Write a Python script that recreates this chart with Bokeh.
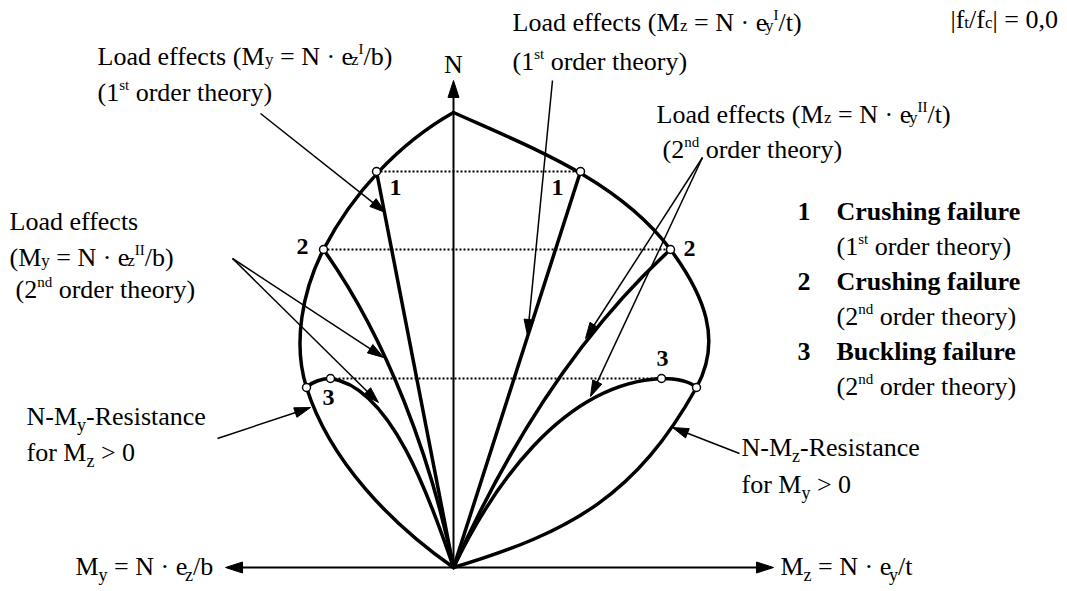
import numpy as np
from bokeh.plotting import figure
from bokeh.models import ColumnDataSource, Range1d
from bokeh.core.properties import value
from bokeh.embed import file_html
from bokeh.resources import INLINE

# ------------------------------------------------------------------
# DATA  (M = horizontal moment axis, N = axial force; origin at 0,0)
# ------------------------------------------------------------------
# Outer N-M resistance contour, cubic Bezier segments
outer_x0 = [0, -130, -147, 0, 217, 243]
outer_y0 = [455, 318, 180, 455, 318, 180]
outer_cx0 = [-55, -151, -124, 78, 251, 183]
outer_cy0 = [424, 277, 107, 420, 272, 73]
outer_cx1 = [-101, -161, -63, 165, 269, 120]
outer_cy1 = [374, 224, 44, 387, 227, 36]
outer_x1 = [-130, -147, 0, 217, 243, 0]
outer_y1 = [318, 180, 0, 318, 180, 0]

# 2nd order load paths (crushing 2, buckling 3), cubic Bezier segments
path_x0 = [-130, -147, -123, 217, 243, 208]
path_y0 = [318, 180, 189, 318, 180, 189]
path_cx0 = [-66, -141, -63, 122, 235, 107]
path_cy0 = [228, 186, 181, 231, 187, 184]
path_cx1 = [-22, -131, -24, 52, 219, 37]
path_cy1 = [108, 189, 71, 116, 189, 77]
path_x1 = [0, -123, 0, 0, 208, 0]
path_y1 = [0, 189, 0, 0, 189, 0]

# 1st order load paths (straight lines from origin)
first_m = [-77, 127]
first_n = [396, 396]

# failure points
pt_m = [-77, 127, -130, 217, -147, -123, 208, 243]
pt_n = [396, 396, 318, 318, 180, 189, 189, 180]

# dotted levels
lvl_m0 = [-77, -130, -123]
lvl_m1 = [127, 217, 208]
lvl_n = [396, 318, 189]

# axes (start -> arrow tip)
ax_x0 = [0, 0, 0]
ax_y0 = [0, 0, 0]
ax_x1 = [0, -228, 320]
ax_y1 = [487, 0, 0]

# annotation arrows (start -> tip)
an_x0 = [-193, -221, -221, 99, 249, 249, -236, 286]
an_y0 = [454, 309, 309, 487, 410, 410, 129, 114]
an_x1 = [-68, -70, -75, 74, 132, 137, -143, 219]
an_y1 = [355, 210, 165, 232, 229, 171, 160, 140]

# point numbers
num_text = ["1", "1", "2", "2", "3", "3"]
num_m = [-58, 104, -151, 236, -125, 209]
num_n = [380, 380, 321, 319, 170, 209]

# text blocks: (runs, x, baseline)
labels = [
    ([("Load effects (M", "n"), ("y", "sub"), (" = N · e", "n"), ("z", "sub"), ("I", "sup"), ("/b)", "n")], -356, 511),
    ([("(1", "n"), ("st", "sup"), (" order theory)", "n")], -356, 475),
    ([("Load effects", "n")], -444, 346),
    ([("(M", "n"), ("y", "sub"), (" = N · e", "n"), ("z", "sub"), ("II", "sup"), ("/b)", "n")], -444, 310),
    ([("(2", "n"), ("nd", "sup"), (" order theory)", "n")], -438, 278),
    ([("Load effects (M", "n"), ("z", "sub"), (" = N · e", "n"), ("y", "sub"), ("I", "sup"), ("/t)", "n")], 59, 545),
    ([("(1", "n"), ("st", "sup"), (" order theory)", "n")], 59, 506),
    ([("Load effects (M", "n"), ("z", "sub"), (" = N · e", "n"), ("y", "sub"), ("II", "sup"), ("/t)", "n")], 203, 453),
    ([("(2", "n"), ("nd", "sup"), (" order theory)", "n")], 209, 418),
    ([("|f", "n"), ("t", "sub"), ("/f", "n"), ("c", "sub"), ("| = 0,0", "n")], 497, 548),
    ([("1", "b")], 344, 356),
    ([("Crushing failure", "b")], 383, 356),
    ([("(1", "n"), ("st", "sup"), (" order theory)", "n")], 383, 321),
    ([("2", "b")], 344, 286),
    ([("Crushing failure", "b")], 383, 286),
    ([("(2", "n"), ("nd", "sup"), (" order theory)", "n")], 383, 251),
    ([("3", "b")], 344, 216),
    ([("Buckling failure", "b")], 383, 216),
    ([("(2", "n"), ("nd", "sup"), (" order theory)", "n")], 383, 181),
    ([("N-M", "n"), ("y", "lsub"), ("-Resistance", "n")], -427, 151),
    ([("for M", "n"), ("z", "lsub"), (" > 0", "n")], -427, 115),
    ([("N-M", "n"), ("z", "lsub"), ("-Resistance", "n")], 288, 120),
    ([("for M", "n"), ("y", "lsub"), (" > 0", "n")], 288, 83),
    ([("M", "n"), ("y", "lsub"), (" = N · e", "n"), ("z", "lsub"), ("/b", "n")], -378, 1),
    ([("M", "n"), ("z", "lsub"), (" = N · e", "n"), ("y", "lsub"), ("/t", "n")], 327, 1),
    ([("N", "n")], -9.5, 503),
]

# ------------------------------------------------------------------
FONT = "Liberation Serif"
REG = {' ': 250, '(': 333, ')': 333, ',': 250, '-': 333, '.': 250, '/': 278, '=': 564, '>': 564,
       '|': 200, '·': 250,
       'A': 722, 'B': 667, 'C': 667, 'D': 722, 'E': 611, 'F': 556, 'G': 722, 'H': 722, 'I': 333,
       'J': 389, 'K': 722, 'L': 611, 'M': 889, 'N': 722, 'O': 722, 'P': 556, 'Q': 722, 'R': 667,
       'S': 556, 'T': 611, 'U': 722, 'V': 722, 'W': 944, 'X': 722, 'Y': 722, 'Z': 611,
       'a': 444, 'b': 500, 'c': 444, 'd': 500, 'e': 444, 'f': 333, 'g': 500, 'h': 500, 'i': 278,
       'j': 278, 'k': 500, 'l': 278, 'm': 778, 'n': 500, 'o': 500, 'p': 500, 'q': 500, 'r': 333,
       's': 389, 't': 278, 'u': 500, 'v': 500, 'w': 722, 'x': 500, 'y': 500, 'z': 444}
BOLD = {' ': 250, 'B': 667, 'C': 722, 'a': 500, 'b': 556, 'c': 444, 'd': 556, 'e': 444, 'f': 333,
        'g': 500, 'h': 556, 'i': 278, 'k': 556, 'l': 278, 'n': 556, 'o': 500, 'r': 444, 's': 389,
        'u': 556}
STYLE = {"n": (26, 0, False), "b": (26, 0, True), "sub": (17, -3, False),
         "lsub": (18, -8, False), "sup": (15, 8, False)}


def tw(s, size, bold):
    tbl = BOLD if bold else REG
    return sum(tbl.get(ch, 500) for ch in s) * size / 1000.0


p = figure(width=1067, height=591, x_range=Range1d(-453, 614), y_range=Range1d(-24, 567),
           output_backend="svg", toolbar_location=None, x_axis_location=None,
           y_axis_location=None, min_border=0, outline_line_color=None,
           background_fill_color="white", border_fill_color="white")
p.grid.visible = False

# dotted levels
p.segment(x0=lvl_m0, y0=lvl_n, x1=lvl_m1, y1=lvl_n, line_color="black", line_width=2,
          line_dash="2 2")


def heads(x0, y0, x1, y1, L, w):
    xs, ys, sx, sy = [], [], [], []
    for a, b, c, d in zip(x0, y0, x1, y1):
        v = np.array([c - a, d - b], float)
        u = v / np.hypot(*v)
        n = np.array([-u[1], u[0]])
        base = np.array([c, d]) - L * u
        xs.append([c, base[0] + w * n[0], base[0] - w * n[0]])
        ys.append([d, base[1] + w * n[1], base[1] - w * n[1]])
        sx.append(base[0] + 2 * u[0])
        sy.append(base[1] + 2 * u[1])
    return xs, ys, sx, sy


# axes
hx, hy, ex, ey = heads(ax_x0, ax_y0, ax_x1, ax_y1, 17, 5.5)
p.segment(x0=ax_x0, y0=ax_y0, x1=ex, y1=ey, line_color="black", line_width=2)
p.patches(xs=hx, ys=hy, fill_color="black", line_color="black", line_width=1)

# annotation arrows
hx, hy, ex, ey = heads(an_x0, an_y0, an_x1, an_y1, 16, 5)
p.segment(x0=an_x0, y0=an_y0, x1=ex, y1=ey, line_color="black", line_width=1.5)
p.patches(xs=hx, ys=hy, fill_color="black", line_color="black", line_width=1)

# 1st order lines
p.segment(x0=first_m, y0=first_n, x1=[0] * len(first_m), y1=[0] * len(first_n),
          line_color="black", line_width=3.5, line_cap="round")

# outer contour and load paths
p.bezier(x0=outer_x0, y0=outer_y0, x1=outer_x1, y1=outer_y1, cx0=outer_cx0, cy0=outer_cy0,
         cx1=outer_cx1, cy1=outer_cy1, line_color="black", line_width=3.5, line_cap="round")
p.bezier(x0=path_x0, y0=path_y0, x1=path_x1, y1=path_y1, cx0=path_cx0, cy0=path_cy0,
         cx1=path_cx1, cy1=path_cy1, line_color="black", line_width=3.5, line_cap="round")

# failure points
p.scatter(x=pt_m, y=pt_n, marker="circle", size=8, fill_color="white", line_color="black",
          line_width=1.5)

# point numbers
p.text(x=num_m, y=num_n, text=num_text, text_font=value(FONT), text_font_size=value("24px"),
       text_font_style="bold", text_align="center", text_baseline="alphabetic",
       text_color="black")

# text blocks
groups = {}
for runs, x, y in labels:
    for s, kind in runs:
        size, dy, bold = STYLE[kind]
        lead = len(s) - len(s.lstrip(" "))
        xx = x + tw(s[:lead], size, bold)
        g = groups.setdefault((size, bold), {"x": [], "y": [], "text": []})
        g["x"].append(xx)
        g["y"].append(y + dy)
        g["text"].append(s.strip(" "))
        x += tw(s, size, bold)

for (size, bold), g in groups.items():
    p.text(x="x", y="y", text="text", source=ColumnDataSource(g), text_font=value(FONT),
           text_font_size=value(f"{size}px"), text_font_style="bold" if bold else "normal",
           text_align="left", text_baseline="alphabetic", text_color="black")

open("out.html", "w").write(file_html(p, INLINE))
